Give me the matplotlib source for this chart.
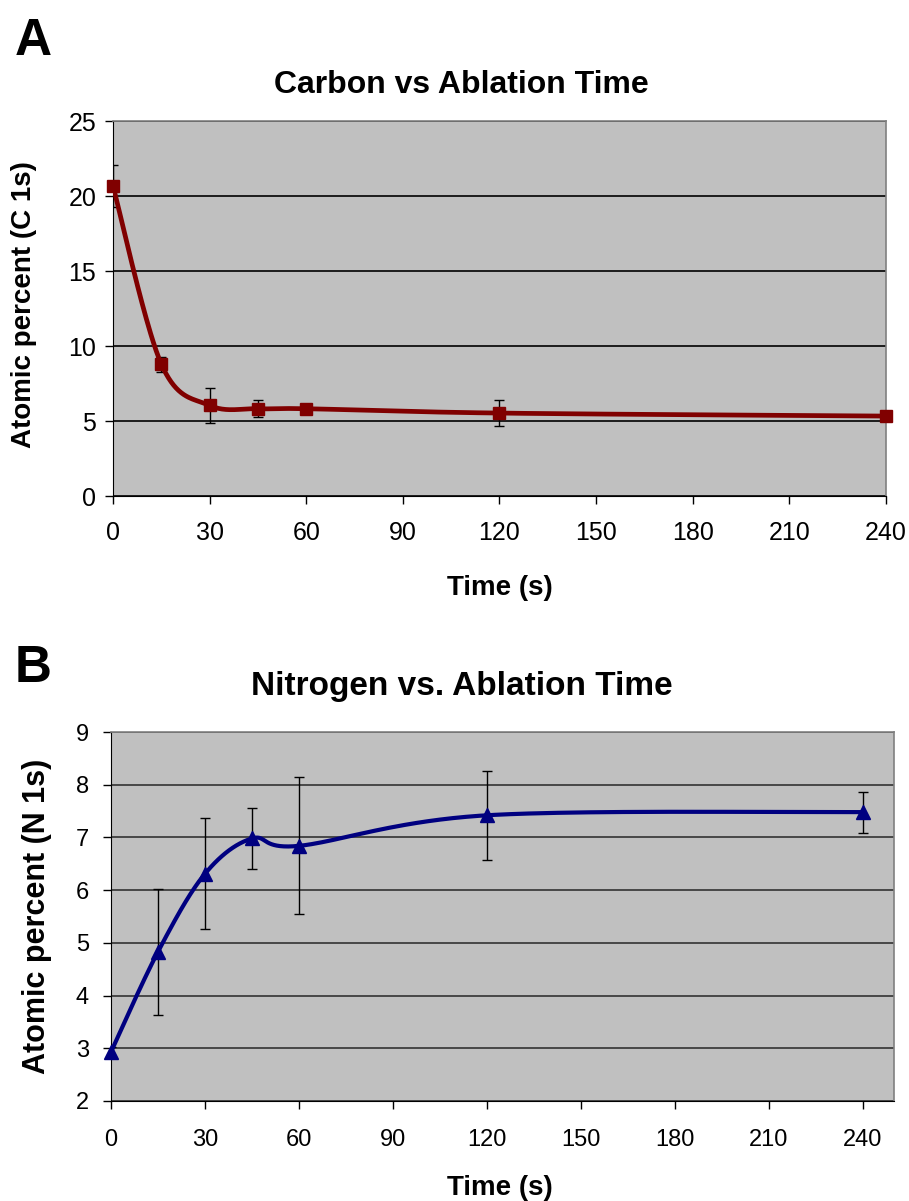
import matplotlib
matplotlib.use("Agg")
import matplotlib.pyplot as plt
import numpy as np

# ---------- data ----------
tiempo = [0, 15, 30, 45, 60, 120, 240]

carbono = [20.67, 8.8, 6.04, 5.82, 5.82, 5.53, 5.33]
carbono_err = [1.4, 0.5, 1.18, 0.55, 0.2, 0.88, 0.1]

nitrogeno = [2.93, 4.83, 6.31, 6.98, 6.84, 7.42, 7.48]
nitrogeno_err = [0.1, 1.19, 1.05, 0.57, 1.3, 0.84, 0.39]

x_ticks = [0, 30, 60, 90, 120, 150, 180, 210, 240]
c_ticks = [0, 5, 10, 15, 20, 25]
n_ticks = [2, 3, 4, 5, 6, 7, 8, 9]


def suavizar(xs, ys, n=40):
    # curva suave tipo Excel (Bezier con tangentes Catmull-Rom)
    p = np.column_stack([xs, ys]).astype(float)
    p = np.vstack([p[0], p, p[-1]])
    t = np.linspace(0, 1, n)[:, None]
    out = []
    for i in range(1, len(p) - 2):
        p0, p1, p2, p3 = p[i - 1], p[i], p[i + 1], p[i + 2]
        b1 = p1 + (p2 - p0) / 6.0
        b2 = p2 - (p3 - p1) / 6.0
        seg = (1 - t) ** 3 * p1 + 3 * (1 - t) ** 2 * t * b1 + 3 * (1 - t) * t ** 2 * b2 + t ** 3 * p2
        out.append(seg)
    out = np.vstack(out)
    return out[:, 0], out[:, 1]


def estilo(ax, xmax, yticks, gridcolor, ticksize, xpad, ypad):
    ax.set_facecolor("#C0C0C0")
    ax.set_xlim(0, xmax)
    ax.set_ylim(yticks[0], yticks[-1])
    ax.set_xticks(x_ticks)
    ax.set_yticks(yticks)
    ax.grid(axis="y", color=gridcolor, linewidth=1.2)
    ax.set_axisbelow(True)
    for lado in ["top", "right"]:
        ax.spines[lado].set_color("#808080")
        ax.spines[lado].set_linewidth(1.2)
    for lado in ["left", "bottom"]:
        ax.spines[lado].set_color("black")
    ax.tick_params(direction="out", length=6, width=1, colors="black", labelsize=ticksize)
    ax.tick_params(axis="x", pad=xpad)
    ax.tick_params(axis="y", pad=ypad)


plt.rcParams["font.family"] = ["Liberation Sans", "DejaVu Sans"]
fig = plt.figure(figsize=(9.09, 12.01), dpi=100)

#-----------Carbono-------------#
ax1 = fig.add_axes([0.1243, 0.587, 0.8504, 0.3122])
estilo(ax1, 240, c_ticks, "black", 18, 12, 6)
sx, sy = suavizar(tiempo, carbono)
ax1.plot(sx, sy, color="#800000", linewidth=3.4, zorder=3)
ax1.errorbar(tiempo, carbono, yerr=carbono_err, fmt="none", ecolor="black",
             elinewidth=1, capsize=3.4, capthick=1, zorder=2)
ax1.plot(tiempo, carbono, "s", color="#800000", markersize=9, zorder=4, clip_on=False)
ax1.set_ylabel("Atomic percent (C 1s)", fontsize=20, fontweight="bold")
ax1.yaxis.set_label_coords(-0.098, 0.51)
fig.text(0.508, 1 - 85 / 1201, "Carbon vs Ablation Time", fontsize=23, fontweight="bold",
         ha="center", va="center")
fig.text(0.55, 1 - 588 / 1201, "Time (s)", fontsize=20, fontweight="bold",
         ha="center", va="center")

#-----------Nitrogeno-------------#
ax2 = fig.add_axes([0.1221, 0.0833, 0.8614, 0.3072])
estilo(ax2, 250, n_ticks, "#333333", 17, 14, 10)
sx, sy = suavizar(tiempo, nitrogeno)
ax2.plot(sx, sy, color="#000080", linewidth=3, zorder=3)
ax2.errorbar(tiempo, nitrogeno, yerr=nitrogeno_err, fmt="none", ecolor="black",
             elinewidth=1, capsize=3.6, capthick=1, zorder=2)
ax2.plot(tiempo, nitrogeno, "^", color="#000080", markersize=10, zorder=4, clip_on=False)
ax2.set_ylabel("Atomic percent (N 1s)", fontsize=22, fontweight="bold")
ax2.yaxis.set_label_coords(-0.075, 0.5)
fig.text(0.508, 1 - 686 / 1201, "Nitrogen vs. Ablation Time", fontsize=24, fontweight="bold",
         ha="center", va="center")
fig.text(0.55, 1 - 1188 / 1201, "Time (s)", fontsize=20, fontweight="bold",
         ha="center", va="center")

fig.text(0.016, 1 - 55 / 1201, "A", fontsize=37, fontweight="bold", va="baseline")
fig.text(0.016, 1 - 682 / 1201, "B", fontsize=37, fontweight="bold", va="baseline")

plt.savefig("out.png", dpi=100)
plt.close()
